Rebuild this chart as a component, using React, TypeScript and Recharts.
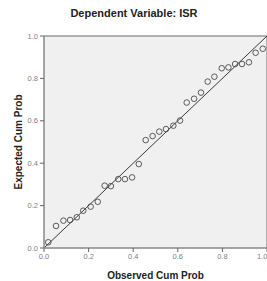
import React from "react";
import {
  ScatterChart,
  Scatter,
  XAxis,
  YAxis,
  CartesianGrid,
  ReferenceLine,
  Label,
} from "recharts";

const observed = [
  0.019, 0.054, 0.087, 0.117, 0.147, 0.176, 0.209, 0.241, 0.272, 0.3, 0.333,
  0.363, 0.395, 0.425, 0.456, 0.487, 0.517, 0.547, 0.58, 0.61, 0.64, 0.673,
  0.704, 0.734, 0.764, 0.797, 0.827, 0.857, 0.888, 0.919, 0.949, 0.981,
];
const expected = [
  0.027, 0.104, 0.129, 0.132, 0.145, 0.176, 0.195, 0.218, 0.294, 0.292, 0.325,
  0.325, 0.333, 0.396, 0.509, 0.528, 0.549, 0.561, 0.577, 0.601, 0.686, 0.704,
  0.733, 0.785, 0.808, 0.848, 0.852, 0.868, 0.868, 0.876, 0.921, 0.94,
];
const ticks = [0, 0.2, 0.4, 0.6, 0.8, 1];

const data = observed.map((x, i) => ({ x, y: expected[i] }));

const FONT = "'Liberation Sans', Arial, sans-serif";

const Circle = (props: any) => {
  const { cx, cy } = props;
  return <circle cx={cx} cy={cy} r={2.8} fill="none" stroke="#4a4a4a" strokeWidth={0.9} />;
};

export default function App() {
  return (
    <div style={{ position: "absolute", left: 0, top: 0, width: 267, height: 281, background: "#fff", fontFamily: FONT }}>
      <div
        style={{
          position: "absolute",
          left: 0,
          width: 268,
          top: 7,
          textAlign: "center",
          fontSize: 11,
          fontWeight: "bold",
          color: "#222",
          fontFamily: FONT,
        }}
      >
        Dependent Variable: ISR
      </div>
      <ScatterChart
        width={267}
        height={281}
        margin={{ top: 36, right: 0, bottom: 0, left: 0 }}
      >
        <CartesianGrid horizontal={false} vertical={false} fill="#f0f0f0" />
        <XAxis
          type="number"
          dataKey="x"
          domain={[0, 1]}
          ticks={ticks}
          tickFormatter={(v: number) => v.toFixed(1)}
          height={33}
          stroke="#888"
          axisLine={{ stroke: "#888", strokeWidth: 1.5 }}
          tickLine={{ stroke: "#666" }}
          tickSize={4}
          tick={{ fill: "#808080", fontSize: 7.5, fontFamily: FONT }}
          allowDataOverflow
        >
          <Label
            value="Observed Cum Prob"
            position="insideBottom"
            offset={2}
            style={{ fill: "#222", fontSize: 10, fontWeight: "bold", fontFamily: FONT }}
          />
        </XAxis>
        <YAxis
          type="number"
          dataKey="y"
          domain={[0, 1]}
          ticks={ticks}
          tickFormatter={(v: number) => v.toFixed(1)}
          width={44}
          stroke="#888"
          axisLine={{ stroke: "#888", strokeWidth: 1.5 }}
          tickLine={{ stroke: "#666" }}
          tickSize={4}
          tick={{ fill: "#808080", fontSize: 7.5, fontFamily: FONT }}
          allowDataOverflow
        >
          <Label
            value="Expected Cum Prob"
            angle={-90}
            position="insideLeft"
            offset={18}
            style={{ textAnchor: "middle", fill: "#222", fontSize: 10, fontWeight: "bold", fontFamily: FONT }}
          />
        </YAxis>
        <ReferenceLine y={1} stroke="#999" strokeWidth={1.5} />
        <ReferenceLine x={1} stroke="#999" strokeWidth={1.5} />
        <ReferenceLine
          segment={[
            { x: 0, y: 0 },
            { x: 1, y: 1 },
          ]}
          stroke="#3a3a3a"
          strokeWidth={1}
        />
        <Scatter data={data} shape={<Circle />} isAnimationActive={false} />
      </ScatterChart>
    </div>
  );
}
